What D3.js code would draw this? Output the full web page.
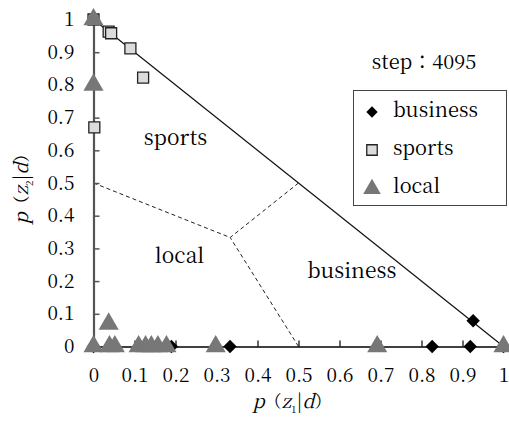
<!DOCTYPE html>
<html>
<head>
<meta charset="utf-8">
<script src="https://cdn.jsdelivr.net/npm/d3@7"></script>
<style>
  html, body { margin: 0; padding: 0; background: #fff; }
  svg { display: block; }
</style>
</head>
<body>
<svg id="chart" width="509" height="422"></svg>
<script>
// Topic proportions p(z1|d), p(z2|d) per document, grouped by true category
const businessX = [0, 0.19, 0.333, 0.826, 0.919, 0.926, 1.0];
const businessY = [0, 0, 0, 0, 0, 0.079, 0];
const sportsX = [0, 0.037, 0.043, 0.09, 0.121, 0.002];
const sportsY = [1, 0.963, 0.958, 0.912, 0.822, 0.67];
const localX = [0, 0, 0.037, 0, 0.039, 0.052, 0.11, 0.127, 0.141, 0.157, 0.178, 0.298, 0.692, 1.0];
const localY = [1, 0.8, 0.069, 0, 0, 0, 0, 0, 0, 0, 0, 0, 0, 0];

const tickValues = [0, 0.1, 0.2, 0.3, 0.4, 0.5, 0.6, 0.7, 0.8, 0.9, 1];
const tickLabels = ["0", "0.1", "0.2", "0.3", "0.4", "0.5", "0.6", "0.7", "0.8", "0.9", "1"];

// Decision-region boundaries (simplex partition)
const boundaryCentre = [1 / 3, 1 / 3];
const boundaryEnds = [[0, 0.5], [0.5, 0.5], [0.5, 0]];
const simplexEdge = [[0, 1], [1, 0]];

const regionNames = ["sports", "local", "business"];
const regionAt = [[0.2, 0.615], [0.21, 0.255], [0.63, 0.21]];

const legendNames = ["business", "sports", "local"];
const stepLabel = "step：4095";

const FONT = '"Noto Serif CJK JP", "Liberation Serif", serif';
const font = (sel, size) => sel.style("font-family", FONT).style("font-size", size + "px").attr("fill", "#000");

const svg = d3.select("#chart");
const x = d3.scaleLinear().domain([0, 1]).range([93.5, 503.5]);
const y = d3.scaleLinear().domain([0, 1]).range([346.5, 19.5]);

// Simplex edge
const line = d3.line().x(d => x(d[0])).y(d => y(d[1]));
svg.append("path").attr("d", line(simplexEdge))
  .attr("fill", "none").attr("stroke", "#111").attr("stroke-width", 1.2);

// Dashed boundaries
boundaryEnds.forEach(e => {
  svg.append("path").attr("d", line([e, boundaryCentre]))
    .attr("fill", "none").attr("stroke", "#222").attr("stroke-width", 1)
    .attr("stroke-dasharray", "4,3");
});

// X axis (ticks pointing into the plot)
const xAxis = d3.axisBottom(x).tickValues(tickValues)
  .tickFormat((d, i) => tickLabels[i]).tickSize(-6).tickSizeOuter(0).tickPadding(22);
const gx = svg.append("g").attr("transform", `translate(0,${y(0)})`).call(xAxis);
gx.select(".domain").attr("stroke", "#000").attr("stroke-width", 1.6);
gx.selectAll(".tick line").attr("stroke", "#000").attr("stroke-width", 1.2)
  .filter(d => d === 0 || d === 1).remove();
font(gx.selectAll(".tick text"), 19);

// Y axis
const yAxis = d3.axisLeft(y).tickValues(tickValues)
  .tickFormat((d, i) => tickLabels[i]).tickSize(-6).tickSizeOuter(0).tickPadding(19);
const gy = svg.append("g").attr("transform", `translate(${x(0)},0)`).call(yAxis);
gy.select(".domain").attr("stroke", "#555").attr("stroke-width", 2.2);
gy.selectAll(".tick line").attr("stroke", "#555").attr("stroke-width", 1.5)
  .filter(d => d === 0).remove();
font(gy.selectAll(".tick text"), 19);

// Region labels
font(svg.selectAll("text.region").data(regionNames).join("text")
  .attr("class", "region")
  .attr("x", (d, i) => x(regionAt[i][0]))
  .attr("y", (d, i) => y(regionAt[i][1]))
  .attr("text-anchor", "middle")
  .text(d => d), 21);

// Markers
const diamond = d3.symbol().type(d3.symbolSquare).size(90);
const square = d3.symbol().type(d3.symbolSquare).size(121);
const triangle = d3.symbol().type(d3.symbolTriangle).size(175);

svg.append("g").selectAll("path").data(businessX.map((v, i) => [v, businessY[i]])).join("path")
  .attr("d", diamond())
  .attr("transform", d => `translate(${x(d[0])},${y(d[1])}) rotate(45)`)
  .attr("fill", "#000");

svg.append("g").selectAll("path").data(sportsX.map((v, i) => [v, sportsY[i]])).join("path")
  .attr("d", square())
  .attr("transform", d => `translate(${x(d[0])},${y(d[1])})`)
  .attr("fill", "#dcdcdc").attr("stroke", "#222").attr("stroke-width", 1.3);

svg.append("g").selectAll("path").data(localX.map((v, i) => [v, localY[i]])).join("path")
  .attr("d", triangle())
  .attr("transform", d => `translate(${x(d[0])},${y(d[1])})`)
  .attr("fill", "#777");

// Step caption
font(svg.append("text").attr("x", 424).attr("y", 69).attr("text-anchor", "middle")
  .text(stepLabel), 20);

// Legend
const lg = svg.append("g");
lg.append("rect").attr("x", 353.5).attr("y", 90.5).attr("width", 153).attr("height", 115)
  .attr("fill", "#fff").attr("stroke", "#444").attr("stroke-width", 1);
const legendY = [110, 148, 186];
const legendSym = [
  g => g.append("path").attr("d", d3.symbol().type(d3.symbolSquare).size(64)())
        .attr("transform", "rotate(45)").attr("fill", "#000"),
  g => g.append("path").attr("d", d3.symbol().type(d3.symbolSquare).size(110)())
        .attr("fill", "#dcdcdc").attr("stroke", "#222").attr("stroke-width", 1.3),
  g => g.append("path").attr("d", d3.symbol().type(d3.symbolTriangle).size(135)())
        .attr("transform", "translate(0,1)").attr("fill", "#777")
];
legendNames.forEach((name, i) => {
  const g = lg.append("g").attr("transform", `translate(372,${legendY[i] + 2})`);
  legendSym[i](g);
  font(lg.append("text").attr("x", 393).attr("y", legendY[i] + 7).text(name), 20);
});

// Axis titles
function axisTitle(sel, sub) {
  font(sel, 19);
  sel.append("tspan").style("font-style", "italic").text("p");
  sel.append("tspan").style("font-size", "17px").text("（");
  sel.append("tspan").style("font-style", "italic").text("z");
  sel.append("tspan").style("font-size", "10px").attr("dy", 5).text(sub);
  sel.append("tspan").attr("dy", -5).text("|");
  sel.append("tspan").style("font-style", "italic").text("d");
  sel.append("tspan").style("font-size", "17px").text("）");
}
axisTitle(svg.append("text").attr("x", 292).attr("y", 408).attr("text-anchor", "middle"), "1");
axisTitle(svg.append("text").attr("transform", "translate(28,185) rotate(-90)").attr("text-anchor", "middle"), "2");
</script>
</body>
</html>
